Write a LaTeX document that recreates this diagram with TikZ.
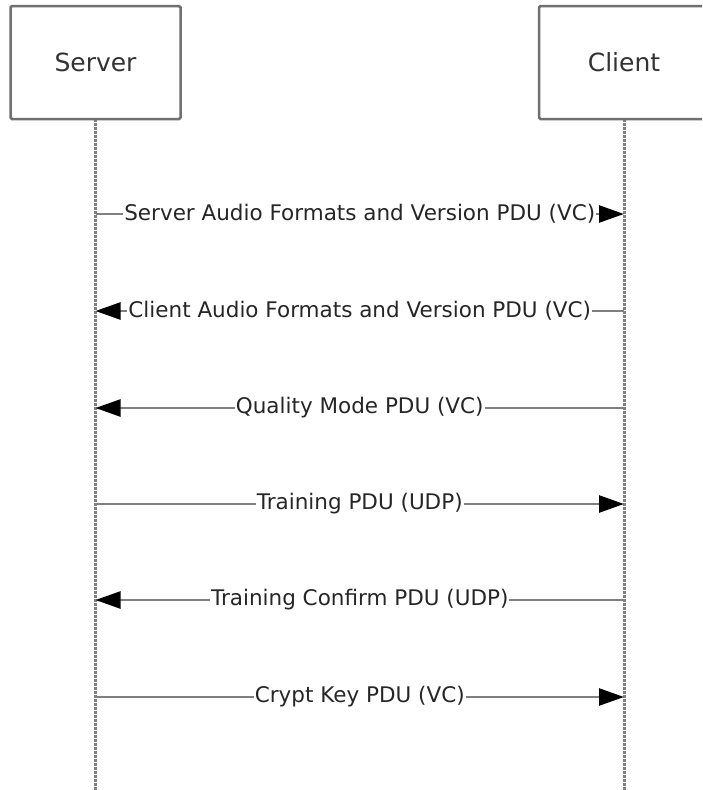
\documentclass[tikz,border=0pt]{standalone}
\usepackage{fontspec}
\setmainfont{DejaVu Sans}
\usetikzlibrary{arrows.meta}
\definecolor{linegray}{RGB}{128,128,128}
\definecolor{boxgray}{RGB}{112,112,112}
\tikzset{
  party/.style={draw=boxgray, line width=2.5pt, rounded corners=1.5pt, fill=white,
    minimum width=170pt, minimum height=113pt, font=\fontsize{25}{29}\selectfont, text=black!80},
  lifeline/.style={draw=linegray, line width=3pt, dash pattern=on 2.5pt off 1.5pt},
  msg/.style={draw=linegray, line width=2.5pt, -{Triangle[length=25pt,width=17pt,black]}},
  lbl/.style={fill=white, inner sep=1pt, font=\fontsize{21.5}{25}\selectfont, text=black!85}
}
\begin{document}
\begin{tikzpicture}[x=1pt,y=-1pt]
            \useasboundingbox (0,0) rectangle (702,790);
            \clip (0,0) rectangle (702,790);
            \fill[white] (0,0) rectangle (702,790);
            % lifelines
            \coordinate (sbot) at (95.5,790);
            \coordinate (cbot) at (624,790);
            \draw[lifeline] (95.5,119) -- (sbot);
            \draw[lifeline] (624,119) -- (cbot);
            \node[party] (server) at (95.5,62.5) {Server};
            \node[party] (client) at (624,62.5) {Client};
            % message rows
            \foreach \n/\y in {1/214,2/311,3/408,4/504,5/600,6/697} {
                \coordinate (s\n) at (95.5,\y);
                \coordinate (c\n) at (624,\y);
            }
            \draw[msg] (s1) -- node[lbl] {Server Audio Formats and Version PDU (VC)} (c1);
            \draw[msg] (c2) -- node[lbl] {Client Audio Formats and Version PDU (VC)} (s2);
            \draw[msg] (c3) -- node[lbl] {Quality Mode PDU (VC)} (s3);
            \draw[msg] (s4) -- node[lbl] {Training PDU (UDP)} (c4);
            \draw[msg] (c5) -- node[lbl] {Training Confirm PDU (UDP)} (s5);
            \draw[msg] (s6) -- node[lbl] {Crypt Key PDU (VC)} (c6);
\end{tikzpicture}
\end{document}
